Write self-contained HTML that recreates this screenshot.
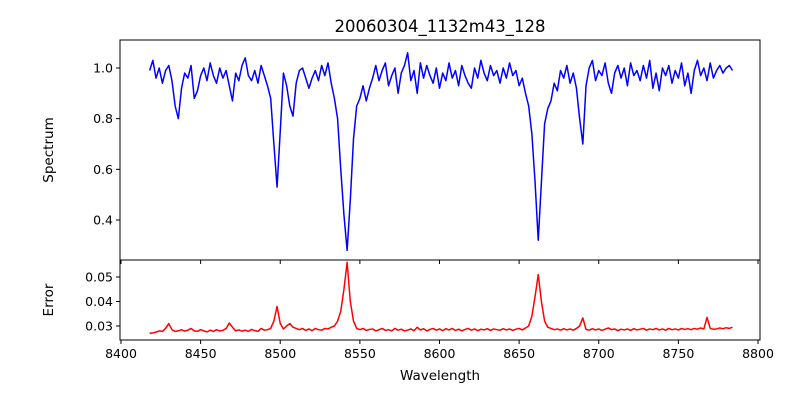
<!DOCTYPE html>
<html><head><meta charset="utf-8"><style>
html,body{margin:0;padding:0;background:#fff;}
svg{display:block;font-family:"DejaVu Sans","Liberation Sans",sans-serif;}
</style></head><body>
<svg id="chart" width="800" height="400" viewBox="0 0 800 400" xmlns="http://www.w3.org/2000/svg">
<rect x="0" y="0" width="800" height="400" fill="#fff"/>
<text x="440" y="32" text-anchor="middle" font-size="16.5">20060304_1132m43_128</text>
<text transform="translate(53,150) rotate(-90)" text-anchor="middle" font-size="13.5">Spectrum</text>
<text transform="translate(53,300) rotate(-90)" text-anchor="middle" font-size="13.5">Error</text>
<text x="440" y="380" text-anchor="middle" font-size="13.5">Wavelength</text>
<g id="g"></g>
</svg>
<script>
const wlStart = 8418, wlStep = 2;
const fluxValues = [
0.99,1.03,0.96,1.00,0.94,0.99,1.01,0.95,0.85,0.80,
0.92,0.98,0.96,1.01,0.88,0.91,0.97,1.00,0.95,1.02,
0.97,0.94,1.00,0.96,0.99,0.93,0.87,0.98,0.95,1.01,
1.04,0.97,0.95,0.99,0.94,1.01,0.97,0.93,0.88,0.70,
0.53,0.75,0.98,0.93,0.85,0.81,0.94,0.99,1.00,0.96,
0.92,0.96,0.99,0.95,1.01,0.97,1.02,0.94,0.88,0.80,
0.60,0.42,0.28,0.48,0.72,0.85,0.88,0.93,0.87,0.92,
0.96,1.01,0.95,0.99,1.02,0.93,0.97,1.00,0.90,0.98,
1.01,1.06,0.95,0.99,0.90,1.02,0.96,1.01,0.97,0.94,
1.00,0.92,0.98,0.95,1.02,0.96,0.99,0.93,1.01,0.97,
0.94,0.92,1.00,0.96,1.03,0.98,0.95,1.01,0.97,0.99,
0.94,1.00,0.96,1.02,0.97,0.99,0.93,0.96,0.90,0.85,
0.74,0.55,0.32,0.55,0.78,0.84,0.87,0.94,0.91,0.99,
0.96,1.01,0.94,0.98,0.92,0.80,0.70,0.93,1.00,1.03,
0.95,0.99,0.97,1.02,0.94,0.90,0.98,1.01,0.96,1.00,
0.93,1.02,0.97,0.99,0.95,1.01,0.96,1.03,0.92,0.98,
0.91,1.00,0.97,1.01,0.94,0.99,0.96,1.02,0.93,0.98,
0.90,0.99,1.03,0.97,1.00,0.95,1.02,0.96,0.99,1.01,
0.98,1.00,1.01,0.99];
const errorValues = [
0.027,0.0272,0.0275,0.028,0.0278,0.029,0.031,0.0285,0.0278,0.028,
0.0285,0.0279,0.0283,0.029,0.028,0.0278,0.0285,0.028,0.0276,0.0283,
0.0278,0.0285,0.028,0.0282,0.029,0.0312,0.0295,0.028,0.0284,0.0279,
0.0283,0.0278,0.0286,0.0281,0.0278,0.029,0.0283,0.0285,0.029,0.032,
0.038,0.031,0.0288,0.030,0.031,0.0295,0.029,0.0285,0.029,0.0282,
0.0288,0.0281,0.029,0.0285,0.0283,0.029,0.0288,0.0295,0.030,0.032,
0.036,0.045,0.056,0.040,0.032,0.029,0.0285,0.029,0.0282,0.0286,
0.0288,0.028,0.0285,0.029,0.0282,0.0285,0.028,0.029,0.0283,0.0287,
0.028,0.0283,0.0288,0.0281,0.0295,0.0284,0.0289,0.028,0.0286,0.029,
0.0283,0.0288,0.0281,0.0289,0.0284,0.029,0.0282,0.0287,0.028,0.0286,
0.029,0.0283,0.0288,0.0281,0.0287,0.0284,0.0289,0.0282,0.0288,0.0285,
0.0283,0.0289,0.0284,0.0288,0.0282,0.0287,0.029,0.0284,0.0292,0.030,
0.034,0.042,0.051,0.040,0.032,0.0295,0.029,0.0285,0.0288,0.0283,
0.0289,0.0284,0.0288,0.0283,0.029,0.030,0.0333,0.0286,0.0283,0.0289,
0.0284,0.0288,0.0282,0.0287,0.0292,0.0285,0.0288,0.0281,0.0287,0.0284,
0.0288,0.0282,0.0289,0.0284,0.0287,0.029,0.0283,0.0288,0.0285,0.029,
0.0284,0.0288,0.0283,0.029,0.0285,0.0288,0.0284,0.029,0.0286,0.0289,
0.0285,0.029,0.0287,0.0292,0.0288,0.0335,0.029,0.0287,0.0288,0.0292,
0.0289,0.0293,0.029,0.0295];
const xTicks = [8400,8450,8500,8550,8600,8650,8700,8750,8800];
const fluxTicks = [0.4,0.6,0.8,1.0];
const fluxTickLabels = ["0.4","0.6","0.8","1.0"];
const errTicks = [0.03,0.04,0.05];
const errTickLabels = ["0.03","0.04","0.05"];

const NS="http://www.w3.org/2000/svg";
const g=document.getElementById('g');
const L=120,R=760,T1=40,B1=260,T2=260,B2=340;
const x=v=>121+(v-8400)*(758-121)/400;
const y1=v=>68+(1.0-v)*(220-68)/0.6;
const y2=v=>277+(0.05-v)*(326-277)/0.02;
function el(t,a){const e=document.createElementNS(NS,t);for(const k in a)e.setAttribute(k,a[k]);g.appendChild(e);return e;}

let d1='';fluxValues.forEach((v,i)=>{d1+=(i?'L':'M')+x(wlStart+i*wlStep).toFixed(2)+','+y1(v).toFixed(2);});
const p1=el('path',{d:d1,fill:'none',stroke:'#0000ff','stroke-width':1.5,'stroke-linejoin':'round'});


let d2='';errorValues.forEach((v,i)=>{d2+=(i?'L':'M')+x(wlStart+i*wlStep).toFixed(2)+','+y2(v).toFixed(2);});
const p2=el('path',{d:d2,fill:'none',stroke:'#ff0000','stroke-width':1.5,'stroke-linejoin':'round'});



const f1=el('rect',{x:L,y:T1,width:R-L,height:B1-T1,fill:'none',stroke:'#000','stroke-width':1});


const f2=el('rect',{x:L,y:T2,width:R-L,height:B2-T2,fill:'none',stroke:'#000','stroke-width':1});



xTicks.forEach(v=>{
  const t=el('line',{x1:x(v),x2:x(v),y1:B2,y2:B2+4,stroke:'#000'});
  
  
  const tl=el('text',{x:x(v),y:B2+18,'text-anchor':'middle','font-size':12.5});
  tl.textContent=String(v);
  
  
  const t2=el('line',{x1:x(v),x2:x(v),y1:B1,y2:B1+4,stroke:'#000'});
  
  
});
fluxTicks.forEach((v,i)=>{
  const t=el('line',{x1:L-4,x2:L,y1:y1(v),y2:y1(v),stroke:'#000'});
  
  
  const tl=el('text',{x:L-7,y:y1(v)+4.5,'text-anchor':'end','font-size':12.5});
  tl.textContent=fluxTickLabels[i];
  
  
});
errTicks.forEach((v,i)=>{
  const t=el('line',{x1:L-4,x2:L,y1:y2(v),y2:y2(v),stroke:'#000'});
  
  
  const tl=el('text',{x:L-7,y:y2(v)+4.5,'text-anchor':'end','font-size':12.5});
  tl.textContent=errTickLabels[i];
  
  
});
</script>
</body></html>
